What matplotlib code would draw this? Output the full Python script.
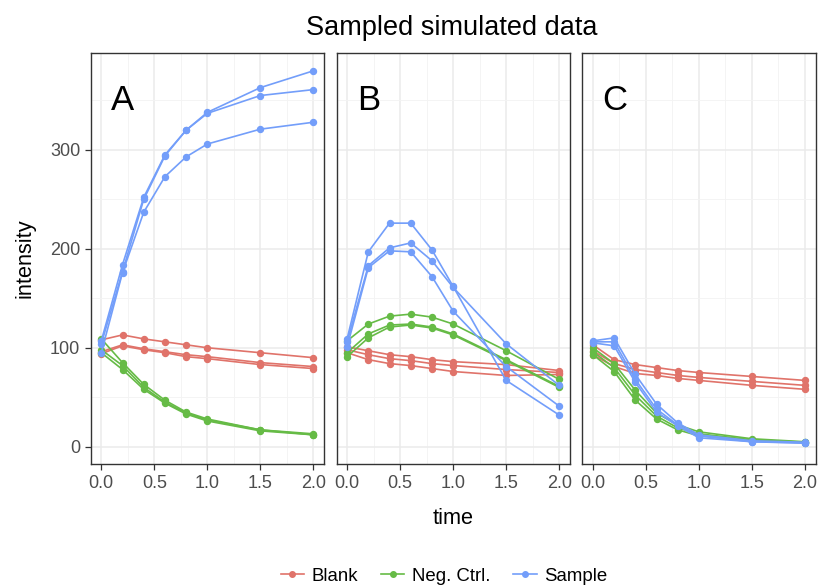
import matplotlib
matplotlib.use("Agg")
import matplotlib.pyplot as plt
from matplotlib.lines import Line2D

# --- dados ---
tempo = [0.0, 0.2, 0.4, 0.6, 0.8, 1.0, 1.5, 2.0]
paineis = ["A", "B", "C"]
grupos = ["Blank", "Neg. Ctrl.", "Sample"]

blank_A = [
    [108, 113, 109, 106, 103, 100, 95, 90],
    [96, 103, 99, 96, 93, 91, 85, 81],
    [94, 102, 98, 95, 91, 89, 83, 79],
]
negctrl_A = [
    [109, 85, 63, 47, 35, 28, 17, 13],
    [98, 82, 60, 45, 34, 27, 17, 12],
    [95, 78, 58, 44, 33, 26, 16, 12],
]
sample_A = [
    [107, 184, 252, 295, 320, 338, 363, 380],
    [104, 177, 250, 294, 320, 337, 355, 361],
    [95, 176, 237, 273, 293, 306, 321, 328],
]

blank_B = [
    [101, 97, 93, 91, 88, 86, 83, 77],
    [98, 93, 89, 87, 84, 82, 78, 75],
    [95, 88, 84, 82, 79, 76, 72, 73],
]
negctrl_B = [
    [107, 124, 132, 134, 131, 124, 97, 68],
    [95, 114, 123, 124, 121, 114, 88, 61],
    [91, 110, 121, 123, 120, 113, 87, 60],
]
sample_B = [
    [109, 197, 226, 226, 199, 162, 67, 32],
    [106, 183, 201, 206, 188, 161, 104, 62],
    [101, 181, 198, 197, 172, 137, 81, 41],
]

blank_C = [
    [103, 88, 83, 80, 77, 75, 71, 67],
    [97, 84, 78, 75, 72, 70, 66, 62],
    [93, 81, 74, 72, 69, 67, 62, 58],
]
negctrl_C = [
    [100, 84, 57, 34, 22, 15, 8, 5],
    [96, 80, 52, 31, 19, 13, 7, 4.5],
    [93, 76, 47, 28, 17, 11, 6, 4],
]
sample_C = [
    [107, 110, 73, 43, 24, 12, 6, 4.5],
    [106, 106, 68, 38, 22, 11, 5, 4],
    [105, 102, 65, 35, 21, 9, 5, 3.5],
]

dados = {
    "A": [blank_A, negctrl_A, sample_A],
    "B": [blank_B, negctrl_B, sample_B],
    "C": [blank_C, negctrl_C, sample_C],
}
cores = ["#E0736A", "#66BB46", "#739EFA"]

# --- figura ---
plt.rcParams["font.family"] = ["Liberation Sans", "DejaVu Sans"]
fig = plt.figure(figsize=(8.18, 5.87), dpi=100)
W, H = 818, 587
esquerdas = [90.7, 336.5, 582.3]
topo, base, largura = 53, 464.3, 233.3

for i, p in enumerate(paineis):
    ax = fig.add_axes([esquerdas[i] / W, 1 - base / H, largura / W, (base - topo) / H])
    ax.set_xlim(-0.1, 2.1)
    ax.set_ylim(-17.8, 398)
    ax.set_xticks([0, 0.5, 1.0, 1.5, 2.0])
    ax.set_xticklabels(["0.0", "0.5", "1.0", "1.5", "2.0"])
    ax.set_xticks([0.25, 0.75, 1.25, 1.75], minor=True)
    ax.set_yticks([0, 100, 200, 300])
    ax.set_yticks([50, 150, 250, 350], minor=True)
    ax.grid(which="major", color="#EBEBEB", linewidth=1.1)
    ax.grid(which="minor", color="#F3F3F3", linewidth=0.6)
    ax.set_axisbelow(True)
    for s in ax.spines.values():
        s.set_color("#333333")
        s.set_linewidth(1.0)
    ax.tick_params(which="major", direction="out", length=4, width=0.9,
                   color="#333333", labelsize=13, labelcolor="#4D4D4D", pad=3.5)
    ax.tick_params(which="minor", length=0)
    if i > 0:
        ax.tick_params(axis="y", which="major", left=False, labelleft=False)

    for g, reps in enumerate(dados[p]):
        for serie in reps:
            ax.plot(tempo, serie, color=cores[g], linewidth=1.2,
                    marker="o", markersize=4.3, zorder=3)

    ax.text(0.09, 350, p, fontsize=25, ha="left", va="center")

fig.text(452 / W, 1 - 28 / H, "Sampled simulated data", fontsize=19.5,
         ha="center", va="center")
fig.text(25 / W, 1 - 258 / H, "intensity", fontsize=15.7, rotation=90,
         ha="center", va="center")
fig.text(453 / W, 1 - 518 / H, "time", fontsize=15.7, ha="center", va="center")

alcas = [Line2D([0], [0], color=c, linewidth=1.2, marker="o", markersize=4)
         for c in cores]
fig.legend(alcas, grupos, loc="center", bbox_to_anchor=(444 / W, 1 - 576 / H),
           ncol=3, frameon=False, fontsize=13.4, handlelength=1.25,
           columnspacing=1.25, handletextpad=0.4)

plt.savefig("out.png", dpi=100)
plt.close()
